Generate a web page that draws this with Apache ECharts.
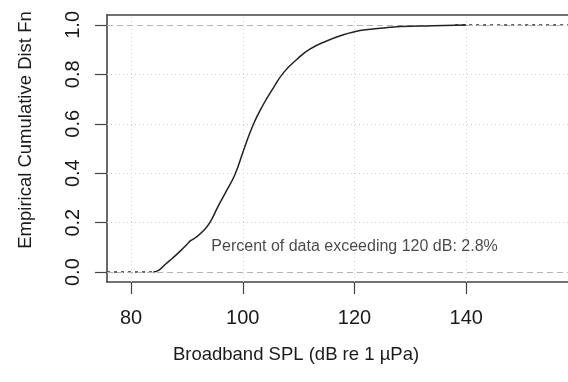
<!DOCTYPE html>
<html>
<head>
<meta charset="utf-8">
<script src="https://cdn.jsdelivr.net/npm/echarts@6.0.0/dist/echarts.min.js"></script>
<style>
  html, body { margin: 0; padding: 0; background: #ffffff; }
  #chart { width: 568px; height: 382px; }
</style>
</head>
<body>
<div id="chart"></div>
<script>
// Empirical CDF of broadband sound pressure level
const splValues = [84.0, 85.0, 86.1, 87.5, 88.8, 90.0, 90.6, 91.5, 92.9, 94.1, 95.6, 97.1, 98.6, 100.1,
                   101.9, 103.7, 105.5, 107.3, 109.7, 112.0, 115.0, 118.0, 120.0, 122.0, 124.6, 128.2, 134.0, 140.0];
const cdfValues = [0.0, 0.008, 0.031, 0.058, 0.085, 0.112, 0.126, 0.139, 0.166, 0.200, 0.267, 0.330, 0.395, 0.490,
                   0.598, 0.679, 0.746, 0.807, 0.861, 0.902, 0.935, 0.960, 0.972, 0.980, 0.986, 0.993, 0.997, 1.0];

// flat ends of the step function (below the minimum and above the maximum)
const lowerTailSpl = [75.7, 84.0];
const upperTailSpl = [138.0, 158.2];

const xTicks = [80, 100, 120, 140];
const yTicks = [0.0, 0.2, 0.4, 0.6, 0.8, 1.0];
const yGridLevels = [0.2, 0.4, 0.6, 0.8];
const yRefLevels = [0.0, 1.0];
const xRange = [75.7, 158.2];
const yRange = [-0.04, 1.04];
const thresholdDb = 120;

const FONT = '"Liberation Sans", Arial, sans-serif';
const AXIS_COLOR = '#444444';

const curve = splValues.map((v, i) => [v, cdfValues[i]]);
const lowerTail = lowerTailSpl.map(v => [v, 0]);
const upperTail = upperTailSpl.map(v => [v, 1]);

const thrIdx = splValues.indexOf(thresholdDb);
const exceedPct = ((1 - cdfValues[thrIdx]) * 100).toFixed(1);
const noteText = 'Percent of data exceeding ' + thresholdDb + ' dB: ' + exceedPct + '%';

const chart = echarts.init(document.getElementById('chart'), null, { renderer: 'canvas' });

const option = {
  animation: false,
  backgroundColor: '#ffffff',
  textStyle: { fontFamily: FONT },
  grid: { left: 107, right: 0, top: 15, bottom: 100, containLabel: false },
  xAxis: [
    {
      type: 'value', min: xRange[0], max: xRange[1], position: 'bottom',
      axisLine: { show: true, onZero: false, lineStyle: { color: AXIS_COLOR, width: 1.6 } },
      axisTick: { show: true, length: 12, customValues: xTicks, lineStyle: { color: AXIS_COLOR, width: 1.2 } },
      axisLabel: { show: true, customValues: xTicks, fontSize: 20, color: '#1a1a1a', margin: 26, fontFamily: FONT },
      splitLine: { show: false }
    },
    {
      type: 'value', min: xRange[0], max: xRange[1], position: 'top',
      axisLine: { show: true, onZero: false, lineStyle: { color: AXIS_COLOR, width: 1.6 } },
      axisTick: { show: false }, axisLabel: { show: false }, splitLine: { show: false }
    }
  ],
  yAxis: {
    type: 'value', min: yRange[0], max: yRange[1],
    axisLine: { show: true, onZero: false, lineStyle: { color: AXIS_COLOR, width: 1.6 } },
    axisTick: { show: true, length: 12, customValues: yTicks, lineStyle: { color: AXIS_COLOR, width: 1.2 } },
    axisLabel: {
      show: true, customValues: yTicks, rotate: 90, fontSize: 20, color: '#1a1a1a', margin: 24, fontFamily: FONT,
      formatter: v => Number(v).toFixed(1)
    },
    splitLine: { show: false }
  },
  graphic: [
    {
      type: 'text', x: 296, y: 355, z: 10,
      style: { text: 'Broadband SPL (dB re 1 µPa)', fontSize: 18.5, fontFamily: FONT, fill: '#1a1a1a',
               align: 'center', verticalAlign: 'middle' }
    },
    {
      type: 'text', rotation: Math.PI / 2, x: 26, y: 130, z: 10,
      style: { text: 'Empirical Cumulative Dist Fn', fontSize: 18.5, fontFamily: FONT, fill: '#1a1a1a',
               align: 'center', verticalAlign: 'middle' }
    }
  ],
  series: [
    {
      // reference grid: dotted at the tick positions, dashed at 0 and 1
      type: 'line', data: [], silent: true, z: 1,
      markLine: {
        silent: true, symbol: ['none', 'none'], label: { show: false },
        lineStyle: { color: '#cfcfcf', width: 1, type: [1, 3] },
        data: xTicks.map(v => ({ xAxis: v })).concat(yGridLevels.map(v => ({ yAxis: v })))
      }
    },
    {
      type: 'line', data: [], silent: true, z: 2,
      markLine: {
        silent: true, symbol: ['none', 'none'], label: { show: false },
        lineStyle: { color: '#b4b4b4', width: 1, type: [6, 4] },
        data: yRefLevels.map(v => ({ yAxis: v }))
      }
    },
    {
      type: 'line', data: lowerTail, showSymbol: false, silent: true, z: 4,
      lineStyle: { color: '#333333', width: 1.5, type: [3, 4] }
    },
    {
      type: 'line', data: upperTail, showSymbol: false, silent: true, z: 4,
      lineStyle: { color: '#333333', width: 1.5, type: [3, 4] }
    },
    {
      type: 'line', data: curve, showSymbol: false, silent: true, z: 5,
      smooth: 0.5,
      lineStyle: { color: '#222222', width: 1.5 }
    },
    {
      type: 'scatter', data: [[thresholdDb, 0.105]], symbolSize: 0, silent: true, z: 6,
      itemStyle: { color: 'rgba(0,0,0,0)' },
      label: { show: true, position: 'inside', formatter: noteText, fontSize: 16, color: '#1a1a1a', fontFamily: FONT }
    }
  ]
};

chart.setOption(option);
</script>
</body>
</html>
